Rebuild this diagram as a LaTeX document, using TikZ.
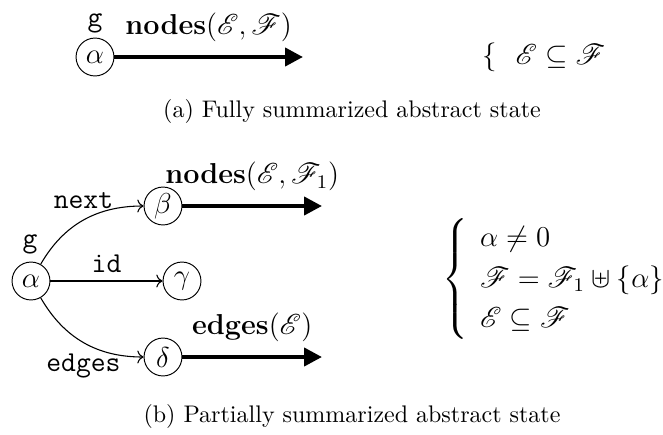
\documentclass[tikz,border=0pt]{standalone}
\usepackage{amsmath,amssymb}
\usepackage{mathrsfs}
\usetikzlibrary{arrows.meta}
\newcommand\dgfont{\fontsize{12}{14.5}\selectfont}
\tikzset{
  state/.style={circle,draw,inner sep=0pt,minimum size=15.8pt,font=\dgfont},
  fat/.style={line width=1.7pt,-{Triangle[length=7.5pt,width=7.5pt]}},
  ptr/.style={->,line width=0.45pt},
  lab/.style={font=\dgfont},
  cond/.style={font=\dgfont,inner sep=0pt,anchor=west},
  capt/.style={font=\fontsize{10}{12}\selectfont,anchor=base},
}
\begin{document}
\begin{tikzpicture}[x=0.41667pt,y=-0.41667pt]
\useasboundingbox (0,0) rectangle (663,434);
% (a)
\node[state] (a0) at (95,57) {$\alpha$};
\node[lab,anchor=base] (ga) at (95,26) {\texttt{g}};
\coordinate (ea) at (303,57);
\draw[fat] (a0) -- (ea) node[lab,midway,above=2pt] (na) {$\mathbf{nodes}(\mathscr{E},\mathscr{F})$};
\node[cond] (ca) at (482,57) {$\left\{\ \ \mathscr{E}\subseteq\mathscr{F}\right.$};
\node[capt] (capa) at (352,117) {(a) Fully summarized abstract state};
% (b)
\node[state] (a1) at (31,281) {$\alpha$};
\node[state] (b1) at (163,206) {$\beta$};
\node[state] (c1) at (182,281) {$\gamma$};
\node[state] (d1) at (163,357) {$\delta$};
\node[lab,anchor=base] (gb) at (30,247) {\texttt{g}};
\draw[ptr] (a1) to[out=60,in=180] node[lab,midway,above=1pt] (ln) {\texttt{next}} (b1);
\draw[ptr] (a1) -- node[lab,above] (li) {\texttt{id}} (c1);
\draw[ptr] (a1) to[out=-60,in=180] node[lab,midway,below=1pt] (le) {\texttt{edges}} (d1);
\coordinate (eb) at (322,206);
\coordinate (ed) at (322,357);
\draw[fat] (b1) -- (eb) node[lab,midway,above=2pt] (nb) {$\mathbf{nodes}(\mathscr{E},\mathscr{F}_1)$};
\draw[fat] (d1) -- (ed) node[lab,midway,above=2pt] (nd) {$\mathbf{edges}(\mathscr{E})$};
\node[cond] (cb) at (442,279) {$\renewcommand\arraystretch{1.15}\left\{\begin{array}{l}
  \alpha\neq 0\\
  \mathscr{F}=\mathscr{F}_1\uplus\{\alpha\}\\
  \mathscr{E}\subseteq\mathscr{F}
\end{array}\right.$};
\node[capt] (capb) at (352,422) {(b) Partially summarized abstract state};
\end{tikzpicture}
\end{document}
